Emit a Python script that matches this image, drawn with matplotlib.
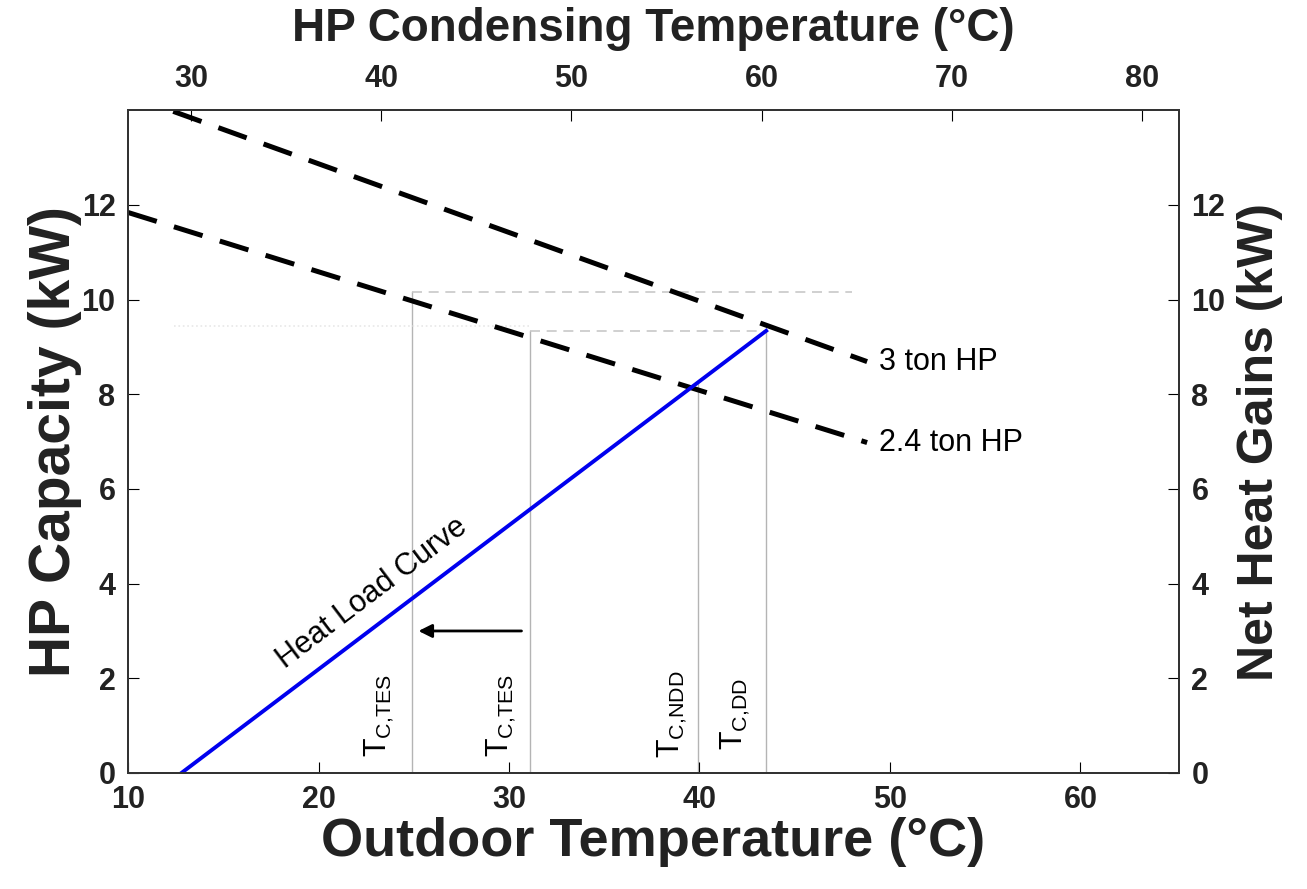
import matplotlib.pyplot as plt
import numpy as np

plt.rcParams['font.family'] = ['Liberation Sans', 'DejaVu Sans']

# heat load curve (outdoor temp vs net heat gains)
load_x = [12.8, 43.5]
load_y = [0.0, 9.34]

# HP capacity curves
hp3_x = [10.0, 48.8]
hp3_y = [14.32, 8.69]
hp24_x = [10.0, 48.8]
hp24_y = [11.84, 6.98]

# marker temperatures (vertical guides) and their heights
tc_x = [24.9, 31.1, 39.9, 43.5]
tc_top = [10.17, 9.34, 8.27, 9.34]
tc_labels = [r'$\mathregular{T_{C{,}TES}}$', r'$\mathregular{T_{C{,}TES}}$',
             r'$\mathregular{T_{C{,}NDD}}$', r'$\mathregular{T_{C{,}DD}}$']
label_x = [23.2, 29.6, 38.55, 41.9]
label_y = [0.34, 0.34, 0.32, 0.49]

fig = plt.figure(figsize=(13.07, 8.89), dpi=100)
ax = fig.add_axes([0.098, 0.1305, 0.804, 0.7455])

# guide lines
for x, top in zip(tc_x, tc_top):
    ax.plot([x, x], [0, top], color='#b4b4b4', lw=1.0, zorder=1)
ax.plot([tc_x[0], 48.0], [tc_top[0], tc_top[0]], color='#c8c8c8', lw=1.2,
        dashes=(6, 4), zorder=1)
ax.plot([tc_x[1], tc_x[3]], [tc_top[1], tc_top[1]], color='#c8c8c8', lw=1.2,
        dashes=(6, 4), zorder=1)
ax.plot([12.4, tc_x[1]], [9.45, 9.45], color='#e8e8e8', lw=1.2, ls=':', zorder=1)

ax.plot(hp3_x, hp3_y, color='black', lw=3.6, dashes=(6, 3.6), zorder=3)
ax.plot(hp24_x, hp24_y, color='black', lw=3.6, dashes=(6, 3.6),
        dash_capstyle='butt', zorder=3)
ax.plot(load_x, load_y, color='#0000ee', lw=2.8, zorder=4)

ax.text(49.4, hp3_y[1], '3 ton HP', fontsize=22, va='center', ha='left')
ax.text(49.4, hp24_y[1], '2.4 ton HP', fontsize=22, va='center', ha='left')
ax.text(22.8, 3.8, 'Heat Load Curve', fontsize=22, rotation=37.1,
        ha='center', va='center', rotation_mode='anchor')

for lx, ly, lab in zip(label_x, label_y, tc_labels):
    ax.text(lx, ly, lab, fontsize=22, rotation=90, ha='center', va='bottom')

ax.annotate('', xy=(25.1, 3.0), xytext=(30.8, 3.0),
            arrowprops=dict(arrowstyle='-|>', color='black', lw=2,
                            mutation_scale=20))

ax.set_xlim(10, 65.17)
ax.set_ylim(0, 14)
ax.set_xticks(np.arange(10, 61, 10))
ax.set_yticks(np.arange(0, 13, 2))
ax.tick_params(direction='in', length=8, labelsize=22, pad=9)
for lab in ax.get_xticklabels() + ax.get_yticklabels():
    lab.set_fontweight('bold')
    lab.set_color('#222222')
ax.set_xlabel('Outdoor Temperature (°C)', fontsize=39, fontweight='bold',
              color='#222222', labelpad=1)
ax.set_ylabel('HP Capacity (kW)', fontsize=41, fontweight='bold',
              color='#222222', labelpad=0)

axt = ax.twiny()
axt.set_xlim(26.69, 81.95)
axt.set_xticks(np.arange(30, 81, 10))
axt.tick_params(direction='in', length=8, labelsize=22, pad=12)
for lab in axt.get_xticklabels():
    lab.set_fontweight('bold')
    lab.set_color('#222222')
axt.set_xlabel('HP Condensing Temperature (°C)', fontsize=33, fontweight='bold',
               color='#222222', labelpad=16)

axr = ax.twinx()
axr.set_ylim(0, 14)
axr.set_yticks(np.arange(0, 13, 2))
axr.tick_params(direction='in', length=8, labelsize=22, pad=9)
for lab in axr.get_yticklabels():
    lab.set_fontweight('bold')
    lab.set_color('#222222')
axr.set_ylabel('Net Heat Gains (kW)', fontsize=36, fontweight='bold',
               color='#222222', labelpad=8)

for a in (ax, axt, axr):
    for s in a.spines.values():
        s.set_color('#333333')
        s.set_linewidth(1.2)

fig.savefig('out.png', dpi=100)
